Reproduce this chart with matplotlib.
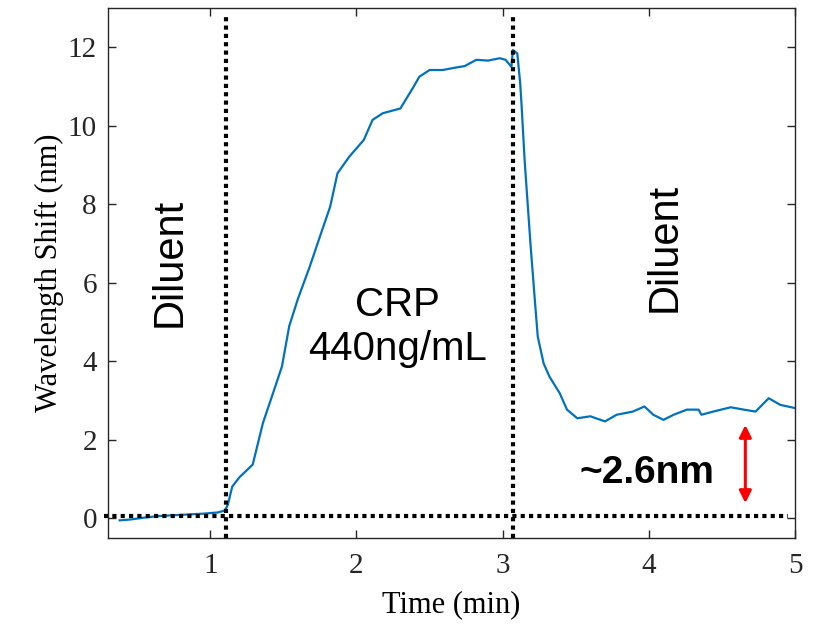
import matplotlib
matplotlib.use("Agg")
import matplotlib.pyplot as plt

# sensor trace
time_min = [0.38, 0.45, 0.55, 0.65, 0.75, 0.85, 0.95, 1.05, 1.10, 1.12, 1.15, 1.20, 1.29,
            1.36, 1.43, 1.49, 1.54, 1.60, 1.68, 1.75, 1.82, 1.87, 1.95, 2.05, 2.11, 2.18,
            2.30, 2.39, 2.43, 2.50, 2.59, 2.66, 2.74, 2.82, 2.90, 2.98, 3.02, 3.06, 3.07,
            3.10, 3.12, 3.13, 3.15, 3.19, 3.22, 3.24, 3.28, 3.32, 3.39, 3.44, 3.51, 3.60,
            3.70, 3.78, 3.89, 3.97, 4.03, 4.10, 4.17, 4.26, 4.34, 4.36, 4.44, 4.56, 4.65,
            4.73, 4.82, 4.90, 5.00]
shift_nm = [-0.05, -0.03, 0.02, 0.06, 0.08, 0.10, 0.12, 0.15, 0.20, 0.35, 0.81, 1.05, 1.37,
            2.43, 3.20, 3.87, 4.90, 5.60, 6.41, 7.18, 7.94, 8.79, 9.21, 9.64, 10.15, 10.32,
            10.44, 10.99, 11.25, 11.42, 11.42, 11.47, 11.52, 11.68, 11.66, 11.72, 11.68, 11.50, 11.93,
            11.84, 11.08, 10.48, 9.13, 7.00, 5.56, 4.63, 3.95, 3.61, 3.19, 2.77, 2.55, 2.60,
            2.47, 2.64, 2.72, 2.85, 2.64, 2.51, 2.64, 2.77, 2.77, 2.64, 2.72, 2.83, 2.77,
            2.72, 3.06, 2.89, 2.81]

switch_times = [1.11, 3.07]
baseline = 0.07
xticks = [1, 2, 3, 4, 5]
yticks = [0, 2, 4, 6, 8, 10, 12]

fig = plt.figure(figsize=(8.15, 6.24), dpi=100)
ax = fig.add_axes([0.1325, 0.1378, 0.843, 0.8494])

ax.plot(time_min, shift_nm, color="#0072BD", lw=1.6)
for t in switch_times:
    ax.plot([t, t], [-0.5, 12.8], color="black", ls=(0, (1, 1)), lw=3, clip_on=False)
ax.plot([0.27, 4.95], [baseline, baseline], color="black", ls=(0, (1, 1)), lw=3, clip_on=False)

sans = "Liberation Sans"
ax.text(0.72, 6.53, "Diluent", rotation=90, ha="center", va="center", fontsize=30, family=sans)
ax.text(4.11, 6.89, "Diluent", rotation=90, ha="center", va="center", fontsize=30, family=sans)
ax.text(2.28, 4.87, "CRP\n440ng/mL", ha="center", va="center", fontsize=29, family=sans,
        linespacing=1.2)
ax.text(3.99, 1.16, "~2.6nm", ha="center", va="center", fontsize=28, family=sans, weight="bold")
ax.annotate("", xy=(4.66, 0.39), xytext=(4.66, 2.38),
            arrowprops=dict(arrowstyle="<|-|>", color="red", lw=2.2, mutation_scale=18,
                            shrinkA=0, shrinkB=0))

ax.set_xlim(0.3, 5)
ax.set_ylim(-0.5, 13)
ax.set_xticks(xticks)
ax.set_yticks(yticks)
serif = "Liberation Serif"
ax.set_xticklabels([str(v) for v in xticks], family=serif, fontsize=21)
ax.set_yticklabels([str(v) for v in yticks], family=serif, fontsize=21)
ax.tick_params(direction="in", length=6, width=1, colors="#262626", top=True, right=True)
ax.tick_params(axis="x", pad=11)
ax.tick_params(axis="y", pad=8)
for s in ax.spines.values():
    s.set_color("#262626")
    s.set_linewidth(1)
ax.set_xlabel("Time (min)", family=serif, fontsize=22, labelpad=8)
ax.set_ylabel("Wavelength Shift (nm)", family=serif, fontsize=22, labelpad=3)

fig.savefig("out.png", dpi=100)
